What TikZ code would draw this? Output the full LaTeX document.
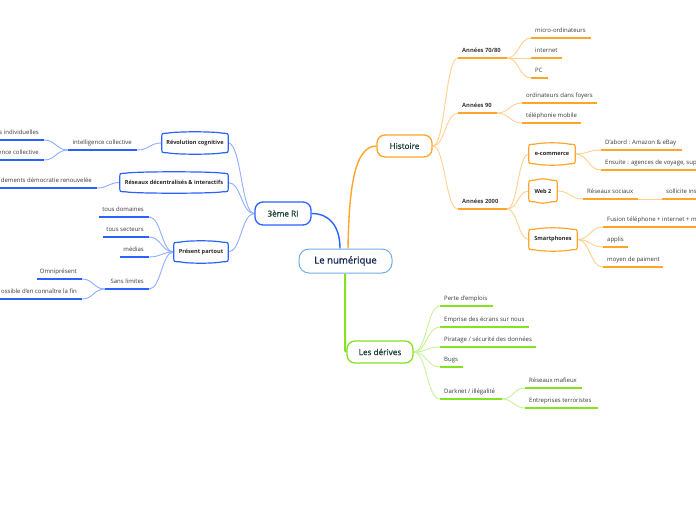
\documentclass[tikz,border=0pt]{standalone}
\usepackage{fontspec}
\setmainfont{Open Sans}
\newfontfamily\medfont{Open Sans}[FakeBold=0.6]
\usetikzlibrary{calc}
\definecolor{cBlue}{HTML}{2962FF}
\definecolor{cBlueL}{HTML}{8FAEFF}
\definecolor{cOr}{HTML}{FFA52A}
\definecolor{cOrL}{HTML}{FFD08E}
\definecolor{cGr}{HTML}{84E21F}
\definecolor{cGrL}{HTML}{C8F29A}
\definecolor{cRoot}{HTML}{72AEE6}
\definecolor{cNavy}{HTML}{15254D}
\definecolor{cDg}{HTML}{1B4232}
\definecolor{cTx}{HTML}{3A3A3A}
\pgfdeclarelayer{bg}
\pgfsetlayers{bg,main}
\newcommand\cn[3][]{\coordinate (mid) at ($(#2)!0.5!(#3)$);
  \draw[#1] (#2) .. controls (mid |- #2) and (mid |- #3) .. (#3);}
\newcommand\leafR[6]{\coordinate (#2-l) at (#3,#5); \coordinate (#2-r) at (#4,#5);
  \draw[#1] (#2-l) -- (#2-r);
  \node[leaf, anchor=base west] (#2) at ($(#2-l)+(4,-5.5)$) {#6};}
\newcommand\leafL[6]{\coordinate (#2-l) at (#3,#5); \coordinate (#2-r) at (#4,#5);
  \draw[#1] (#2-l) -- (#2-r);
  \node[leaf, anchor=base east] (#2) at ($(#2-r)+(-5,-5.5)$) {#6};}
\newcommand\barrel[2]{%
  \draw[#2, line width=1.2pt] ([yshift=-4pt]#1.north west) -- ([yshift=4pt]#1.south west)
  .. controls (#1.south west) .. ([xshift=5pt]#1.south west)
  .. controls ([xshift=14pt,yshift=-2pt]#1.south west) and ([xshift=-14pt,yshift=-2pt]#1.south east) .. ([xshift=-5pt]#1.south east)
  .. controls (#1.south east) .. ([yshift=4pt]#1.south east)
  -- ([yshift=-4pt]#1.north east)
  .. controls (#1.north east) .. ([xshift=-5pt]#1.north east)
  .. controls ([xshift=-14pt,yshift=2pt]#1.north east) and ([xshift=14pt,yshift=2pt]#1.north west) .. ([xshift=5pt]#1.north west)
  .. controls (#1.north west) .. ([yshift=-4pt]#1.north west) -- cycle;}
\tikzset{
  leaf/.style={font=\fontsize{6}{7}\selectfont, text=cTx, inner sep=0pt},
  ulb/.style={cBlue, line width=1.5pt},
  ulo/.style={cOr, line width=1.5pt},
  ulo1/.style={cOr, line width=1.8pt},
  ulg/.style={cGr, line width=1.5pt},
  cnb/.style={cBlueL, line width=0.9pt},
  cno/.style={cOrL, line width=0.9pt},
  cng/.style={cGrL, line width=0.9pt},
  mainbox/.style={draw, rounded corners=8pt, line width=1.3pt, fill=white, text=cDg,
    font=\medfont\fontsize{8.2}{10}\selectfont, inner sep=0pt},
  subbox/.style={inner sep=0pt, font=\bfseries\fontsize{5.6}{7}\selectfont, text=black!85},
}
\newcommand\yr{\bfseries\fontsize{5.8}{7}\selectfont}
\begin{document}
\begin{tikzpicture}[x=1pt,y=-1pt]
\useasboundingbox (0,0) rectangle (696,520);
\begin{pgfonlayer}{bg}
\fill[white] (0,0) rectangle (696,520);
\end{pgfonlayer}
\clip (0,0) rectangle (696,520);

% central and main nodes
\node[draw=cRoot, line width=1pt, rounded corners=10pt, fill=white, minimum width=93pt,
  minimum height=24pt, text=cNavy, font=\medfont\fontsize{9.6}{11}\selectfont, inner sep=0pt]
  (root) at (345.5,261) {Le numérique};
\node[mainbox, draw=cBlue, minimum width=56pt, minimum height=23pt] (ri) at (283,213.5) {3ème RI};
\node[mainbox, draw=cOr, minimum width=55pt, minimum height=22pt] (his) at (404.5,146) {Histoire};
\node[mainbox, draw=cGr, minimum width=66pt, minimum height=22pt] (der) at (380,352) {Les dérives};

% sub boxes
\node[subbox, minimum width=66pt, minimum height=19pt] (rc) at (195,143) {Révolution cognitive};
\node[subbox, minimum width=108pt, minimum height=18pt] (rd) at (174,182.5) {Réseaux décentralisés \& interactifs};
\node[subbox, minimum width=54pt, minimum height=19pt] (pp) at (201,252) {Présent partout};
\node[subbox, minimum width=46pt, minimum height=19pt] (ecm) at (552,154) {e-commerce};
\node[subbox, minimum width=28pt, minimum height=21pt] (w2) at (543,191) {Web 2};
\node[subbox, minimum width=48pt, minimum height=20pt] (sp) at (553,239.5) {Smartphones};
\barrel{rc}{cBlue}
\barrel{rd}{cBlue}
\barrel{pp}{cBlue}
\barrel{ecm}{cOr}
\barrel{w2}{cOr}
\barrel{sp}{cOr}

% blue leaves
\leafL{ulb}{ic}{68}{137}{150}{intelligence collective}
\leafL{ulb}{ii}{-5}{44}{140}{s individuelles}
\leafL{ulb}{ec}{-5}{44}{160}{ence collective}
\leafL{ulb}{dd}{-5}{97}{188}{dements démocratie renouvelée}
\leafL{ulb}{td}{99}{149}{217}{tous domaines}
\leafL{ulb}{ts}{103}{149}{237}{tous secteurs}
\leafL{ulb}{me}{120}{149}{257}{médias}
\leafL{ulb}{sl}{105}{149}{289}{Sans limites}
\leafL{ulb}{om}{37}{82}{279}{Omniprésent}
\leafL{ulb}{ps}{-5}{82}{299}{ossible d'en connaître la fin}

% orange leaves
\leafR{ulo1}{a78}{458}{507}{58}{\yr Années 70/80}
\leafR{ulo}{mo}{531}{591}{38}{micro-ordinateurs}
\leafR{ulo}{int}{531}{562}{58}{internet}
\leafR{ulo}{pc}{531}{548}{78}{PC}
\leafR{ulo1}{a90}{458}{497}{113}{\yr Années 90}
\leafR{ulo}{of}{522}{597}{103}{ordinateurs dans foyers}
\leafR{ulo}{tm}{522}{581}{123}{téléphonie mobile}
\leafR{ulo1}{a20}{458}{507}{209}{\yr Années 2000}
\leafR{ulo}{da}{601}{682}{150}{D'abord : Amazon \& eBay}
\leafR{ulo}{en}{601}{700}{170}{Ensuite : agences de voyage, sup}
\leafR{ulo}{rs}{583}{638}{199}{Réseaux sociaux}
\leafR{ulo}{so}{662}{700}{199}{sollicite ins}
\leafR{ulo}{fu}{603}{700}{227}{Fusion téléphone + internet + m}
\leafR{ulo}{ap}{603}{628}{247}{applis}
\leafR{ulo}{mp}{603}{663}{267}{moyen de paiment}

% green leaves
\leafR{ulg}{pe}{440}{493}{306}{Perte d'emplois}
\leafR{ulg}{em}{440}{529}{327}{Emprise des écrans sur nous}
\leafR{ulg}{pi}{440}{536}{347}{Piratage / sécurité des données}
\leafR{ulg}{bu}{440}{463}{367}{Bugs}
\leafR{ulg}{dk}{440}{502}{399}{Darknet / illégalité}
\leafR{ulg}{rm}{525}{582}{388}{Réseaux mafieux}
\leafR{ulg}{et}{525}{598}{408}{Entreprises terroristes}

\begin{pgfonlayer}{bg}
% main connectors
\coordinate (rb) at ([xshift=-5.5pt]root.north);
\coordinate (ro) at ([xshift=2.5pt]root.north);
\coordinate (rg) at ([xshift=-0.5pt]root.south);
\draw[cBlue, line width=1.4pt] (ri.east) .. controls +(18,0) and +(0,-22) .. (rb);
\draw[cOr, line width=1.4pt] (ro) .. controls +(1,-60) and +(-22,0) .. (his.west);
\draw[cGr, line width=2pt] (rg) -- (rg |- der.north) .. controls (rg |- der.west) .. (der.west);

% blue
\cn[cnb]{ri.west}{rc.east}
\cn[cnb]{ri.west}{rd.east}
\cn[cnb]{ri.west}{pp.east}
\cn[cnb]{rc.west}{ic-r}
\cn[cnb]{ic-l}{ii-r}
\cn[cnb]{ic-l}{ec-r}
\cn[cnb]{rd.west}{dd-r}
\cn[cnb]{pp.west}{td-r}
\cn[cnb]{pp.west}{ts-r}
\cn[cnb]{pp.west}{me-r}
\cn[cnb]{pp.west}{sl-r}
\cn[cnb]{sl-l}{om-r}
\cn[cnb]{sl-l}{ps-r}

% orange
\cn[cno]{his.east}{a78-l}
\cn[cno]{his.east}{a90-l}
\cn[cno]{his.east}{a20-l}
\cn[cno]{a78-r}{mo-l}
\cn[cno]{a78-r}{int-l}
\cn[cno]{a78-r}{pc-l}
\cn[cno]{a90-r}{of-l}
\cn[cno]{a90-r}{tm-l}
\cn[cno]{a20-r}{ecm.west}
\cn[cno]{a20-r}{w2.west}
\cn[cno]{a20-r}{sp.west}
\cn[cno]{ecm.east}{da-l}
\cn[cno]{ecm.east}{en-l}
\cn[cno]{w2.east}{rs-l}
\cn[cno]{rs-r}{so-l}
\cn[cno]{sp.east}{fu-l}
\cn[cno]{sp.east}{ap-l}
\cn[cno]{sp.east}{mp-l}

% green
\cn[cng]{der.east}{pe-l}
\cn[cng]{der.east}{em-l}
\cn[cng]{der.east}{pi-l}
\cn[cng]{der.east}{bu-l}
\cn[cng]{der.east}{dk-l}
\cn[cng]{dk-r}{rm-l}
\cn[cng]{dk-r}{et-l}
\end{pgfonlayer}
\end{tikzpicture}
\end{document}
